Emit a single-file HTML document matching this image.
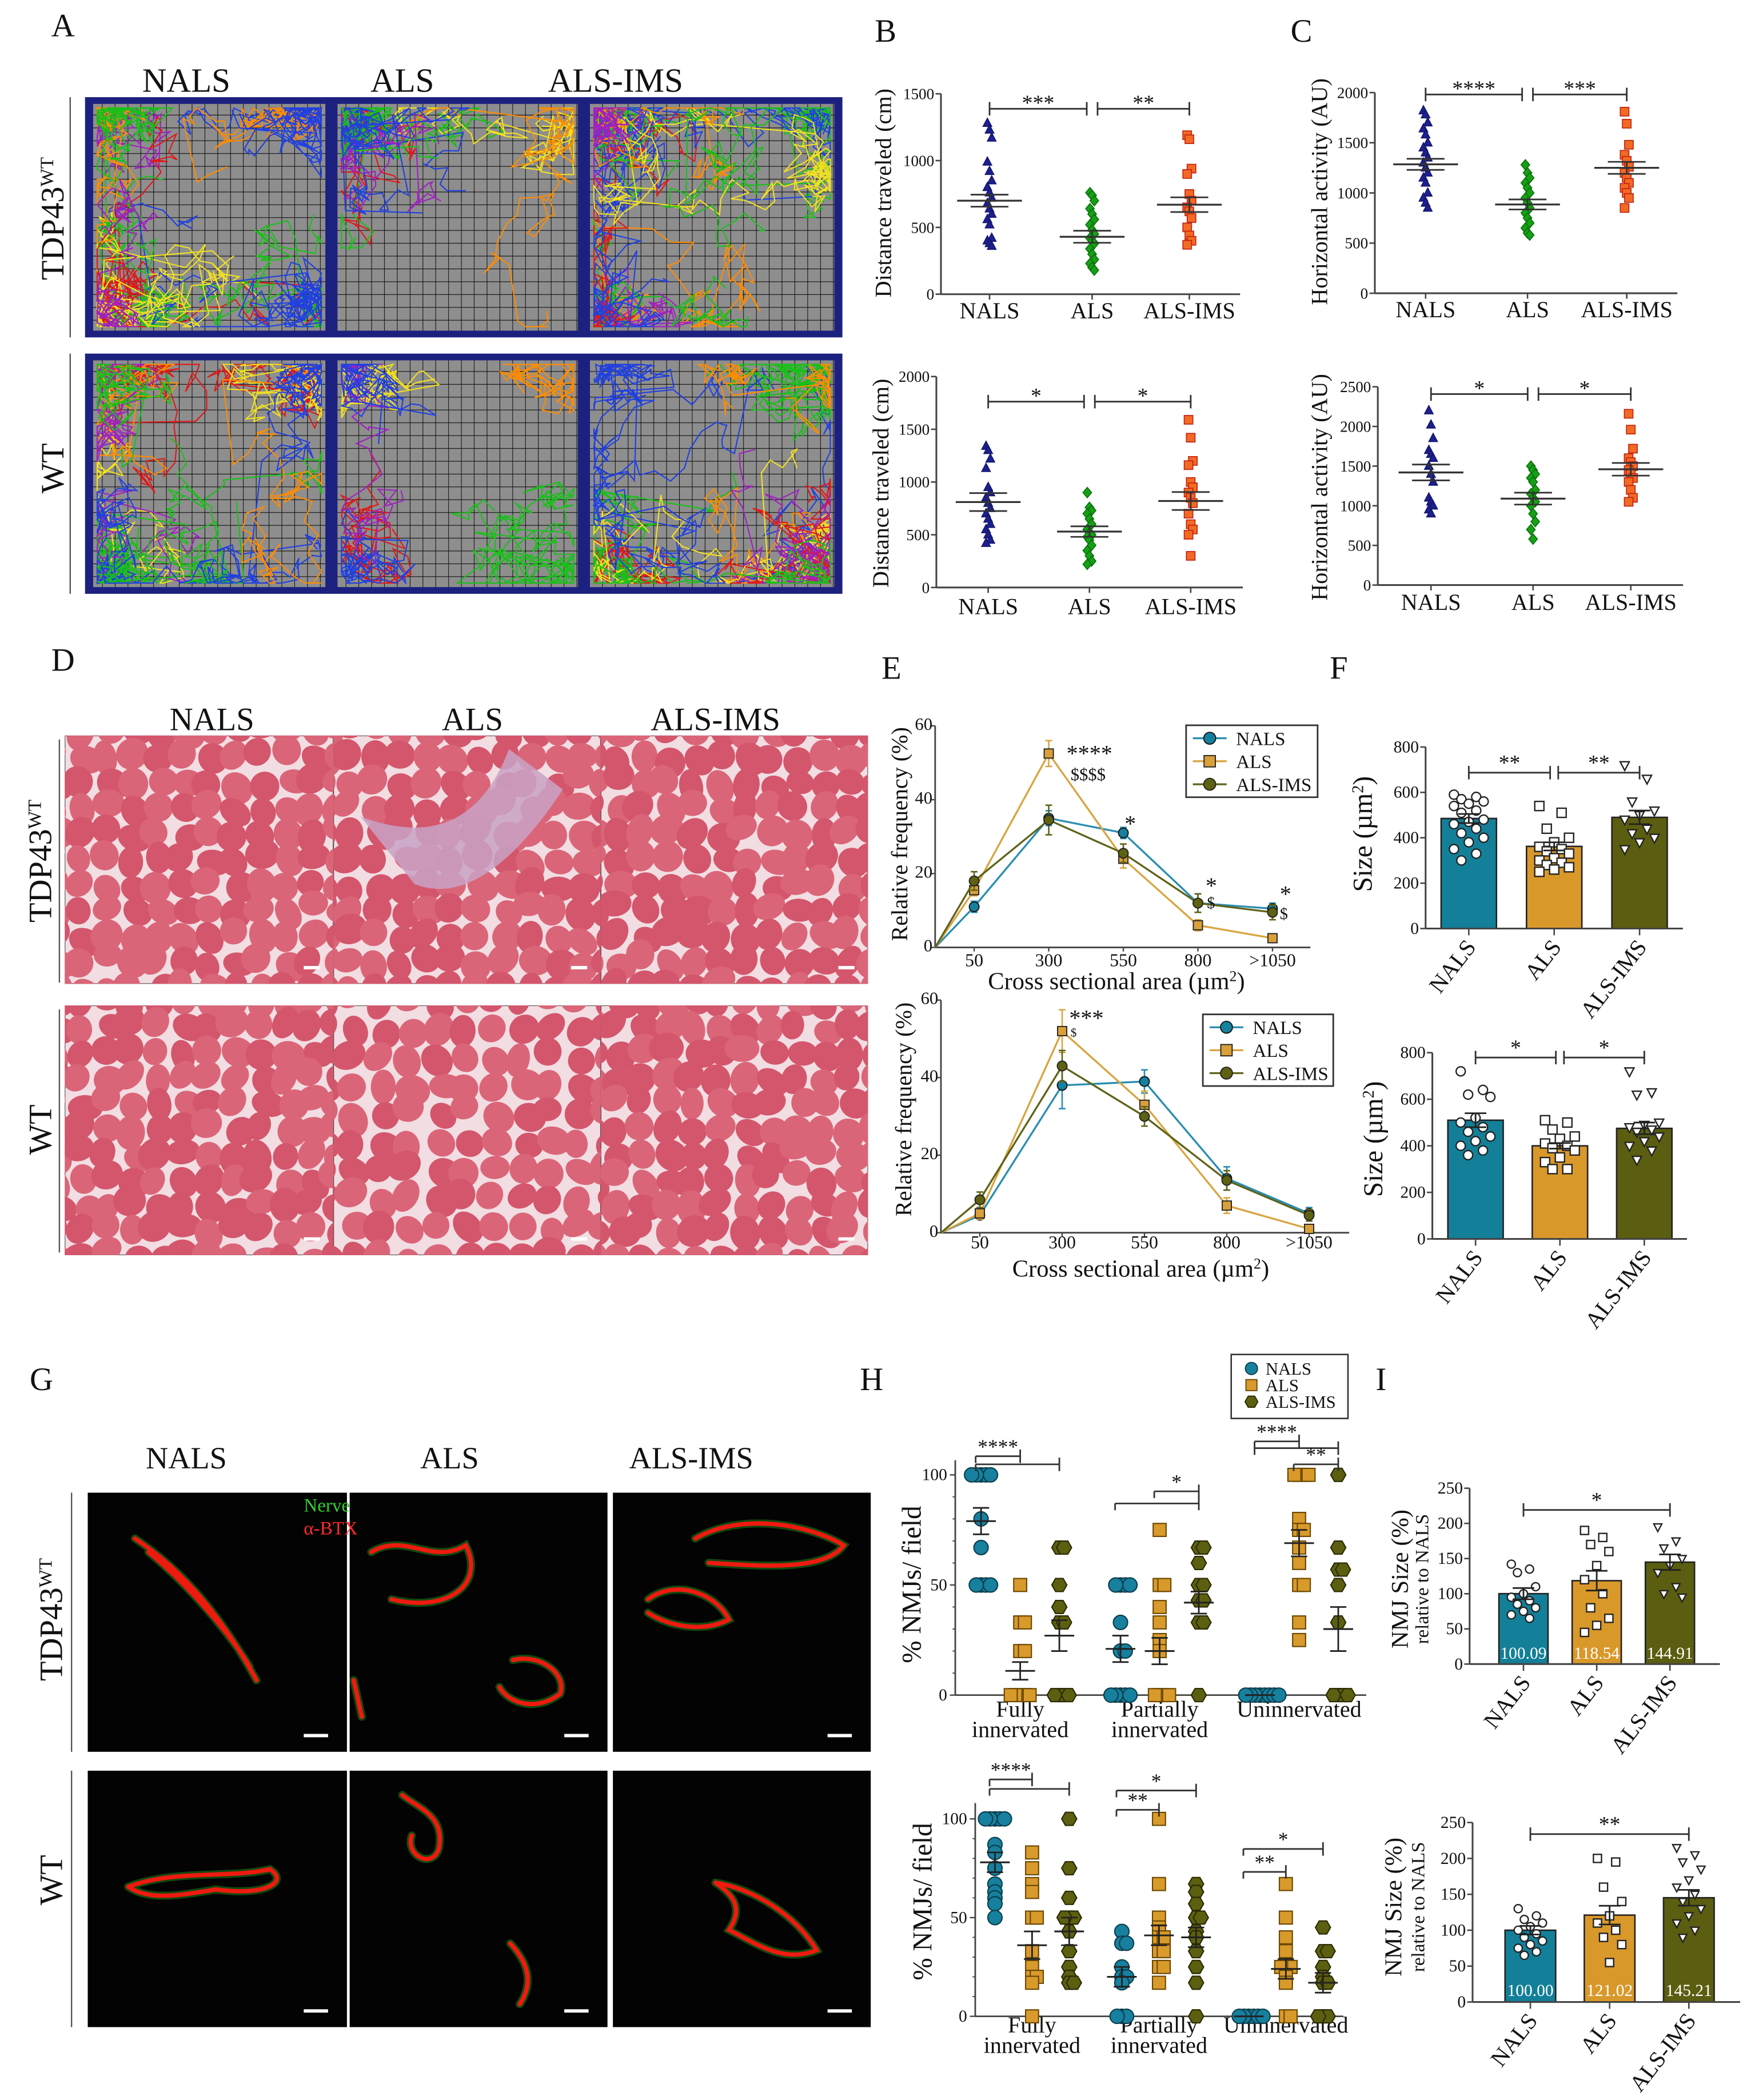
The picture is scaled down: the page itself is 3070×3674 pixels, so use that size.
<!DOCTYPE html>
<html><head><meta charset="utf-8">
<style>
html,body{margin:0;padding:0;background:#fff}
svg{display:block;font-family:"Liberation Serif","DejaVu Serif","Times New Roman",serif}
svg text{font-family:"Liberation Serif","DejaVu Serif","Times New Roman",serif;fill:#111}
</style></head>
<body>
<svg id="fig" xmlns="http://www.w3.org/2000/svg" width="3070" height="3674" viewBox="0 0 1300 1556" preserveAspectRatio="none" font-family="Liberation Serif, DejaVu Serif, serif">
<rect width="1300" height="1556" fill="#fff"/>
</svg>
<script>
// ===== Panel B (distance traveled) =====
const bCats=['NALS','ALS','ALS-IMS'];
const bTopTicks=[0,500,1000,1500];
const bTopNals=[1280,1230,1170,990,920,850,800,760,720,680,640,600,560,520,420,400,380,360];
const bTopAls=[760,740,700,640,600,560,520,480,450,420,400,380,340,300,260,230,200,180];
const bTopIms=[1190,1160,940,900,750,700,650,620,570,500,440,400,370];
const bTopMean=[700,430,670];
const bTopSem=[45,45,55];
const bTopSig=['***','**'];
const bBotTicks=[0,500,1000,1500,2000];
const bBotNals=[1340,1300,1220,1130,950,900,850,800,750,700,650,600,550,500,450,420];
const bBotAls=[900,760,730,700,650,600,550,520,500,480,450,400,350,300,250,220];
const bBotIms=[1590,1420,1200,1160,1000,950,900,850,800,700,600,550,500,300];
const bBotMean=[810,530,820];
const bBotSem=[85,50,85];
const bBotSig=['*','*'];
// ===== Panel C (horizontal activity) =====
const cTopTicks=[0,500,1000,1500,2000];
const cTopNals=[1820,1780,1700,1640,1580,1500,1450,1400,1350,1300,1250,1200,1150,1100,1000,950,900,850];
const cTopAls=[1280,1200,1150,1100,1050,1000,950,900,850,800,750,700,650,600,580];
const cTopIms=[1810,1690,1480,1380,1320,1260,1200,1150,1100,1050,1000,950,850];
const cTopMean=[1285,885,1250];
const cTopSem=[55,50,60];
const cTopSig=['****','***'];
const cBotTicks=[0,500,1000,1500,2000,2500];
const cBotNals=[2200,2020,1850,1700,1650,1600,1500,1400,1300,1100,1050,1000,950,900];
const cBotAls=[1500,1450,1400,1350,1300,1200,1150,1100,1050,1000,900,800,700,580];
const cBotIms=[2160,1960,1720,1600,1550,1500,1450,1400,1350,1300,1200,1100,1050];
const cBotMean=[1420,1090,1460];
const cBotSem=[100,75,80];
const cBotSig=['*','*'];
// ===== Panel E (relative frequency) =====
const eCats=['50','300','550','800','>1050'];
const eTicks=[0,20,40,60];
const eTopNals=[11,35,31,12,10.5];
const eTopNalsErr=[1.5,2,1.5,2.5,1.5];
const eTopAls=[15.5,52.5,24,6,2.5];
const eTopAlsErr=[1.5,3.5,2.5,1.5,0.5];
const eTopIms=[18,34.5,25.5,12,9.5];
const eTopImsErr=[2.5,4,2.5,2.5,2];
const eBotNals=[4.5,38,39,14,5];
const eBotNalsErr=[1,6,3,3,1.5];
const eBotAls=[5,52,33,7,1];
const eBotAlsErr=[1.5,5.5,3.5,2,0.5];
const eBotIms=[8.5,43,30,13.5,4.5];
const eBotImsErr=[2,4,2.5,2.5,1.5];
// ===== Panel F (fiber size) =====
const fTicks=[0,200,400,600,800];
const fTopMean=[485,362,490];
const fTopSem=[20,18,30];
const fTopNals=[590,580,570,560,550,540,520,510,480,470,460,440,420,400,380,350,330,300];
const fTopAls=[540,510,440,400,380,360,350,340,330,310,300,290,280,270,260,250];
const fTopIms=[720,660,560,520,500,480,440,420,400,380,350];
const fTopSig=['**','**'];
const fBotMean=[510,400,475];
const fBotSem=[30,12,25];
const fBotNals=[720,640,620,610,520,500,480,460,440,420,400,380,360];
const fBotAls=[510,500,470,440,430,410,400,390,380,350,330,300,300];
const fBotIms=[720,630,620,500,490,480,470,460,440,420,400,380,340];
const fBotSig=['*','*'];
// ===== Panel H (% NMJs / field) =====
const hGroups=[['Fully','innervated'],['Partially','innervated'],['Uninnervated']];
const hTicks=[0,50,100];
const hTopNals=[[100,100,100,100,100,80,67,50,50,50,50],[50,50,50,50,33,20,20,0,0,0,0,0],[0,0,0,0,0,0,0,0]];
const hTopAls=[[50,33,33,20,20,0,0,0,0,0],[75,50,50,40,33,25,20,0,0,0,0],[100,100,100,100,80,75,75,67,60,50,50,33,25]];
const hTopIms=[[67,67,50,40,33,33,0,0,0,0],[67,67,60,50,50,43,43,33,33,0],[100,67,57,57,50,33,0,0,0,0]];
const hTopNalsMean=[79,21,0], hTopNalsSem=[6,6,0];
const hTopAlsMean=[11,20,69], hTopAlsSem=[4,6,6];
const hTopImsMean=[27,42,30], hTopImsSem=[7,5,10];
const hBotNals=[[100,100,100,100,100,87,83,75,67,63,60,57,50],[43,37,37,25,20,20,17,0,0,0],[0,0,0,0,0,0]];
const hBotAls=[[83,75,67,63,50,50,33,25,20,20,17,0],[100,67,50,45,43,40,40,33,33,25,25,17],[67,50,40,33,25,25,25,20,17,0,0]];
const hBotIms=[[100,75,60,50,50,50,43,33,25,20,17,17],[67,63,57,50,50,43,40,33,25,17,0],[45,33,33,25,20,17,17,0,0,0]];
const hBotNalsMean=[78,20,0], hBotNalsSem=[5,5,0];
const hBotAlsMean=[36,41,24], hBotAlsSem=[7,5,5];
const hBotImsMean=[43,40,17], hBotImsSem=[7,5,5];
// ===== Panel I (NMJ size) =====
const iTicks=[0,50,100,150,200,250];
const iTopMean=[100.09,118.54,144.91];
const iTopSem=[8,14,11];
const iTopLabels=['100.09','118.54','144.91'];
const iTopNals=[142,135,130,110,100,95,90,85,80,75,70,65];
const iTopAls=[190,180,170,160,140,120,100,80,65,55,45];
const iTopIms=[195,175,165,150,140,130,110,100,95];
const iBotMean=[100.00,121.02,145.21];
const iBotSem=[6,13,11];
const iBotLabels=['100.00','121.02','145.21'];
const iBotNals=[130,120,115,110,105,100,95,90,85,80,75,70,65];
const iBotAls=[200,195,160,140,120,110,100,90,80,55];
const iBotIms=[215,205,195,185,170,160,150,140,130,120,110,100,90];

const NS='http://www.w3.org/2000/svg';
const svg=document.getElementById('fig');
const FONT='Liberation Serif, DejaVu Serif, Times New Roman, serif';
function mk(tag,attrs,parent){const e=document.createElementNS(NS,tag);for(const k in attrs)e.setAttribute(k,attrs[k]);(parent||svg).appendChild(e);return e;}
function grp(name,parent){const g=mk('g',{},parent);


return g;}
function ln(p,name,x1,y1,x2,y2,st,sw){const e=mk('line',{x1:x1,y1:y1,x2:x2,y2:y2,stroke:st||'#333','stroke-width':sw||1.2},p);


return e;}
function tx(p,name,x,y,s,size,extra){const t=mk('text',Object.assign({x:x,y:y,'font-size':size,'font-family':FONT},extra||{}),p);


t.textContent=s;return t;}
function marker(p,name,shape,x,y,r,fill,stroke,sw){let e;
if(shape==='circle')e=mk('circle',{cx:x,cy:y,r:r},p);
else if(shape==='square')e=mk('rect',{x:x-r,y:y-r,width:2*r,height:2*r},p);
else{let pts;
if(shape==='tri')pts=[[x,y-r*1.15],[x+r,y+r*0.75],[x-r,y+r*0.75]];
else if(shape==='tridown')pts=[[x-r,y-r*0.75],[x+r,y-r*0.75],[x,y+r*1.15]];
else if(shape==='diamond')pts=[[x,y-r*1.2],[x+r,y],[x,y+r*1.2],[x-r,y]];
else{pts=[];for(let k=0;k<6;k++){const a=Math.PI/3*k;pts.push([x+r*Math.cos(a),y+r*Math.sin(a)]);}}
e=mk('polygon',{points:pts.map(q=>q[0].toFixed(2)+','+q[1].toFixed(2)).join(' ')},p);}
e.setAttribute('fill',fill);e.setAttribute('stroke',stroke);e.setAttribute('stroke-width',sw||1);


return e;}
function vtitle(p,name,x,y,s,size){return tx(p,name,x,y,s,size,{'text-anchor':'middle',transform:'rotate(-90 '+x+' '+y+')'});}

// ---------- Dot plots (B, C) ----------
const BSTY=[{shape:'tri',fill:'#1c2090',stroke:'#14166a'},{shape:'diamond',fill:'#16a016',stroke:'#0c700c'},{shape:'square',fill:'#f26a24',stroke:'#c42010'}];
function dotPlot(name,G,ticks,series,means,sems,sig){
const g=grp(name);const vmax=ticks[ticks.length-1];
const y=v=>G.y0-v/vmax*(G.y0-G.yTop);
ln(g,'y-axis',G.ax,G.y0,G.ax,G.yTop,'#444',1.3);
ticks.forEach(t=>{ln(g,'y-tick',G.ax-4,y(t),G.ax,y(t),'#444',1.1);tx(g,'y-tick-label',G.ax-5,y(t)+4,String(t),11.5,{'text-anchor':'end'});});
ln(g,'x-axis',G.ax,G.y0,G.xEnd,G.y0,'#444',1.3);
bCats.forEach((c,i)=>{ln(g,'x-tick',G.xs[i],G.y0,G.xs[i],G.y0+4,'#444',1.1);tx(g,'x-tick-label',G.xs[i],G.labelY,c,17,{'text-anchor':'middle'});});
vtitle(g,'y-axis-title',G.titleX,G.titleY,G.title,17);
series.forEach((vals,si)=>{vals.forEach((v,i)=>{marker(g,'data-point',BSTY[si].shape,G.xs[si]+((i%3)-1)*1.6,y(v),3.2,BSTY[si].fill,BSTY[si].stroke,0.7);});});
means.forEach((m,i)=>{const x=G.xs[i];
ln(g,'mean-line',x-24,y(m),x+24,y(m),'#333',1.4);
ln(g,'sem-upper',x-14,y(m+sems[i]),x+14,y(m+sems[i]),'#333',1.2);
ln(g,'sem-lower',x-14,y(m-sems[i]),x+14,y(m-sems[i]),'#333',1.2);
ln(g,'sem-bar',x,y(m+sems[i]),x,y(m-sems[i]),'#333',1.2);});
[[0,1],[1,2]].forEach((pr,k)=>{const x1=G.xs[pr[0]]+(pr[0]===1?4:0),x2=G.xs[pr[1]]-(pr[1]===1?4:0);
ln(g,'significance-bar',x1,G.sigY,x2,G.sigY,'#333',1.2);
ln(g,'significance-tick',x1,G.sigY-5,x1,G.sigY+5,'#333',1.2);
ln(g,'significance-tick',x2,G.sigY-5,x2,G.sigY+5,'#333',1.2);
tx(g,'significance-stars',(x1+x2)/2,G.sigY+1,sig[k],16,{'text-anchor':'middle'});});
}
dotPlot('panel-b-top-chart',{ax:697,y0:218,yTop:69.5,xEnd:918.6,xs:[733,809,881],labelY:236,titleX:660,titleY:143,title:'Distance traveled (cm)',sigY:80.6},bTopTicks,[bTopNals,bTopAls,bTopIms],bTopMean,bTopSem,bTopSig);
dotPlot('panel-b-bottom-chart',{ax:693.6,y0:435.3,yTop:279,xEnd:920.6,xs:[732,807,882],labelY:455,titleX:658,titleY:358,title:'Distance traveled (cm)',sigY:297.6},bBotTicks,[bBotNals,bBotAls,bBotIms],bBotMean,bBotSem,bBotSig);
dotPlot('panel-c-top-chart',{ax:1018.4,y0:217.3,yTop:68.6,xEnd:1242.5,xs:[1056,1131.5,1205],labelY:235,titleX:983,titleY:142,title:'Horizontal activity (AU)',sigY:70},cTopTicks,[cTopNals,cTopAls,cTopIms],cTopMean,cTopSem,cTopSig);
dotPlot('panel-c-bottom-chart',{ax:1020.6,y0:433.5,yTop:286.6,xEnd:1246.7,xs:[1060,1135.6,1208],labelY:452,titleX:983,titleY:361,title:'Horizontal activity (AU)',sigY:292},cBotTicks,[cBotNals,cBotAls,cBotIms],cBotMean,cBotSem,cBotSig);

// ---------- Line charts (E) ----------
const ESTY=[{shape:'circle',fill:'#16809e',stroke:'#111',line:'#2a8db0',label:'NALS',r:3.6},{shape:'square',fill:'#d9a03a',stroke:'#222',line:'#d9a441',label:'ALS',r:3.4},{shape:'circle',fill:'#5e6112',stroke:'#222',line:'#5f6219',label:'ALS-IMS',r:3.6}];
function lineChart(name,G,series,errs,stars){
const g=grp(name);const vmax=eTicks[eTicks.length-1];
const y=v=>G.y0-v/vmax*(G.y0-G.yTop);const x=i=>G.x1+i*G.step;
ln(g,'y-axis',G.ax,G.y0,G.ax,G.yTop,'#444',1.2);
eTicks.forEach(t=>{ln(g,'y-tick',G.ax-3,y(t),G.ax,y(t),'#444',1);tx(g,'y-tick-label',G.ax-2,y(t)+3,String(t),13,{'text-anchor':'end'});});
ln(g,'x-axis',G.ax,G.y0,G.xEnd,G.y0,'#444',1.2);
eCats.forEach((c,i)=>{ln(g,'x-tick',x(i),G.y0,x(i),G.y0+3,'#444',1);tx(g,'x-tick-label',x(i),G.labelY,c,13.5,{'text-anchor':'middle'});});
const tt=tx(g,'x-axis-title',G.titleCX,G.titleY,'Cross sectional area (µm',18,{'text-anchor':'middle'});
const sup=mk('tspan',{'baseline-shift':'super','font-size':11},tt);sup.textContent='2';
const cl=mk('tspan',{},tt);cl.textContent=')';
vtitle(g,'y-axis-title',G.titleX,G.titleYc,'Relative frequency (%)',17);
series.forEach((vals,si)=>{const s=ESTY[si];
const pts=[[G.ax,y(0)]].concat(vals.map((v,i)=>[x(i),y(v)]));
const pl=mk('polyline',{points:pts.map(q=>q.join(',')).join(' '),fill:'none',stroke:s.line,'stroke-width':1.4},g);


vals.forEach((v,i)=>{const e=errs[si][i];
ln(g,'error-bar',x(i),y(v+e),x(i),y(v-e),s.line,1.1);
ln(g,'error-cap',x(i)-2.5,y(v+e),x(i)+2.5,y(v+e),s.line,1.1);
ln(g,'error-cap',x(i)-2.5,y(v-e),x(i)+2.5,y(v-e),s.line,1.1);
marker(g,'data-point',s.shape,x(i),y(v),s.r,s.fill,s.stroke,0.8);});});
const L=G.leg;const lg=grp('legend',g);
const box=mk('rect',{x:L.x,y:L.y,width:L.w,height:L.h,fill:'#fff',stroke:'#333','stroke-width':1.2},lg);


ESTY.forEach((s,i)=>{const yy=L.y+L.h*(0.18+0.32*i);
ln(lg,'legend-line',L.x+5,yy,L.x+30,yy,s.line,1.4);
marker(lg,'legend-marker',s.shape,L.x+17.5,yy,s.r+0.8,s.fill,s.stroke,0.8);
tx(lg,'legend-entry',L.x+37,yy+5,s.label,14);});
stars.forEach(st=>tx(g,'significance-mark',st[0],st[1],st[2],st[3]));
}
lineChart('panel-e-top-chart',{ax:692.7,y0:702,yTop:537.8,x1:721.6,step:55.25,xEnd:970.6,labelY:716,titleY:733,titleCX:827,titleX:672,titleYc:618,leg:{x:878.6,y:537.4,w:97.4,h:53.3}},[eTopNals,eTopAls,eTopIms],[eTopNalsErr,eTopAlsErr,eTopImsErr],[[790,564,'****',17],[793,578,'$$$$',13],[833,616,'*',17],[893,662,'*',17],[894,673,'$',12],[948,668,'*',17],[948,681,'$',12]]);
lineChart('panel-e-bottom-chart',{ax:697,y0:913.4,yTop:741,x1:725.8,step:60.98,xEnd:999.4,labelY:925,titleY:946,titleCX:845,titleX:675,titleYc:822,leg:{x:891,y:751.6,w:96.6,h:53.1}},[eBotNals,eBotAls,eBotIms],[eBotNalsErr,eBotAlsErr,eBotImsErr],[[792,760,'***',17],[793,768,'$',9]]);

// ---------- Bar charts (F, I) ----------
const BARSTY=[{fill:'#137f98',shape:'circle'},{fill:'#d9982a',shape:'square'},{fill:'#5b5d10',shape:'tridown'}];
function barChart(name,G,ticks,means,sems,points,sig,valLabels){
const g=grp(name);const vmax=ticks[ticks.length-1];
const y=v=>G.y0-v/vmax*(G.y0-G.yTop);const x=i=>G.x0+i*G.step;
means.forEach((m,i)=>{const r=mk('rect',{x:x(i)-G.bw/2,y:y(m),width:G.bw,height:G.y0-y(m),fill:BARSTY[i].fill,stroke:'#222','stroke-width':1.1},g);

});
points.forEach((vals,si)=>{vals.forEach((v,i)=>{marker(g,'data-point',BARSTY[si].shape,x(si)+(((i*3)%5)-2)*G.spread,y(v),G.mr,'#fff','#222',1);});});
means.forEach((m,i)=>{const xi=x(i);
ln(g,'error-bar',xi,y(m-sems[i]),xi,y(m+sems[i]),'#222',1.2);
ln(g,'error-cap',xi-8,y(m+sems[i]),xi+8,y(m+sems[i]),'#222',1.2);
ln(g,'error-cap',xi-8,y(m-sems[i]),xi+8,y(m-sems[i]),'#222',1.2);
if(valLabels)tx(g,'bar-value-label',xi,G.valY,valLabels[i],12.5,{'text-anchor':'middle',style:'fill:#fff'});});
ln(g,'y-axis',G.ax,G.y0,G.ax,G.yTop,'#444',1.3);
ticks.forEach(t=>{ln(g,'y-tick',G.ax-4,y(t),G.ax,y(t),'#444',1.1);tx(g,'y-tick-label',G.ax-5,y(t)+4,String(t),G.tf,{'text-anchor':'end'});});
ln(g,'x-axis',G.ax,G.y0,G.xEnd,G.y0,'#444',1.3);
bCats.forEach((c,i)=>{ln(g,'x-tick',x(i),G.y0,x(i),G.y0+5,'#444',1.1);
const ax=x(i)+6,ay=G.y0+14;tx(g,'x-tick-label',ax,ay,c,17,{'text-anchor':'end',transform:'rotate(-52 '+ax+' '+ay+')'});});
G.titles.forEach(t=>{const e=vtitle(g,'y-axis-title',t[0],G.titleY,t[1],t[2]);if(t[3]){const s=mk('tspan',{'baseline-shift':'super','font-size':12},e);s.textContent='2';const c=mk('tspan',{},e);c.textContent=')';}});
sig.forEach(s=>{const x1=x(s[0])+(s[0]===1?3:0),x2=x(s[1])-(s[1]===1?3:0);
ln(g,'significance-bar',x1,G.sigY,x2,G.sigY,'#333',1.2);
ln(g,'significance-tick',x1,G.sigY-5,x1,G.sigY+5,'#333',1.2);
ln(g,'significance-tick',x2,G.sigY-5,x2,G.sigY+5,'#333',1.2);
tx(g,'significance-stars',(x1+x2)/2,G.sigY-2,s[2],16,{'text-anchor':'middle'});});
}
barChart('panel-f-top-chart',{ax:1056,y0:688,yTop:553.5,x0:1088,step:63.25,bw:41,xEnd:1246.6,spread:5.5,mr:3.4,tf:12.5,titleY:618,titles:[[1016,'Size (µm',20,true]],sigY:572.5},fTicks,fTopMean,fTopSem,[fTopNals,fTopAls,fTopIms],[[0,1,fTopSig[0]],[1,2,fTopSig[1]]]);
barChart('panel-f-bottom-chart',{ax:1061,y0:918,yTop:780,x0:1093,step:62.5,bw:41,xEnd:1249.6,spread:5.5,mr:3.4,tf:12.5,titleY:844,titles:[[1024,'Size (µm',20,true]],sigY:783.6},fTicks,fBotMean,fBotSem,[fBotNals,fBotAls,fBotIms],[[0,1,fBotSig[0]],[1,2,fBotSig[1]]]);
barChart('panel-i-top-chart',{ax:1088.6,y0:1233,yTop:1102.7,x0:1128.5,step:54.25,bw:36.4,xEnd:1274,spread:4.5,mr:3,tf:12.5,valY:1229,titleY:1170,titles:[[1043,'NMJ Size (%)',18],[1058,'relative to NALS',14]],sigY:1118.8},iTicks,iTopMean,iTopSem,[iTopNals,iTopAls,iTopIms],[[0,2,'*']],iTopLabels);
barChart('panel-i-bottom-chart',{ax:1090.8,y0:1483.4,yTop:1350.4,x0:1133.6,step:58.7,bw:37.5,xEnd:1289,spread:4.5,mr:3,tf:12.5,valY:1479,titleY:1413,titles:[[1038,'NMJ Size (%)',18],[1055,'relative to NALS',14]],sigY:1359},iTicks,iBotMean,iBotSem,[iBotNals,iBotAls,iBotIms],[[0,2,'**']],iBotLabels);

// ---------- Grouped dot plots (H) ----------
const HSTY=[{shape:'circle',fill:'#16809e',stroke:'#0c3d4c',r:5.3},{shape:'square',fill:'#d99a2c',stroke:'#6a4800',r:4.8},{shape:'hex',fill:'#5c5f10',stroke:'#2a2a00',r:5.6}];
function groupDot(name,G,series,means,sems,sigs){
const g=grp(name);const vmax=100;
const y=v=>G.y0-v/vmax*(G.y0-G.y100);const x=(gi,si)=>G.g0+gi*G.gStep+si*G.sStep;
ln(g,'y-axis',G.ax,G.y0,G.ax,G.yTop,'#444',1.2);
hTicks.forEach(t=>{ln(g,'y-tick',G.ax-4,y(t),G.ax,y(t),'#444',1);tx(g,'y-tick-label',G.ax-6,y(t)+4,String(t),12.5,{'text-anchor':'end'});});
for(let t=10;t<=100;t+=10){ln(g,'y-minor-tick',G.ax-2,y(t),G.ax,y(t),'#444',0.8);}
ln(g,'x-axis',G.ax,G.y0,G.xEnd,G.y0,'#444',1.2);
hGroups.forEach((lab,gi)=>{lab.forEach((s,k)=>tx(g,'group-label',x(gi,1),G.labelY+k*15,s,17,{'text-anchor':'middle'}));});
vtitle(g,'y-axis-title',G.titleX,G.titleY,'% NMJs/ field',20);
series.forEach((ser,si)=>{ser.forEach((vals,gi)=>{const seen={};vals.forEach(v=>{const k=seen[v]||0;seen[v]=k+1;
const off=k===0?0:(k%2?1:-1)*Math.ceil(k/2)*3.5;
marker(g,'data-point',HSTY[si].shape,x(gi,si)+off,y(v),HSTY[si].r,HSTY[si].fill,HSTY[si].stroke,0.9);});});});
means.forEach((mm,si)=>{mm.forEach((m,gi)=>{const xx=x(gi,si),e=sems[si][gi];
ln(g,'mean-line',xx-11,y(m),xx+11,y(m),'#222',1.3);
if(e>0){ln(g,'sem-bar',xx,y(m-e),xx,y(m+e),'#222',1.2);
ln(g,'sem-cap',xx-6,y(m+e),xx+6,y(m+e),'#222',1.2);
ln(g,'sem-cap',xx-6,y(m-e),xx+6,y(m-e),'#222',1.2);}});});
sigs.forEach(s=>{const x1=x(s[0],s[1])-4,x2=x(s[0],s[2]);
ln(g,'significance-bar',x1,s[3],x2,s[3],'#333',1.2);
ln(g,'significance-tick',x1,s[3],x1,s[3]+5,'#333',1.2);
ln(g,'significance-tick',x2,s[3]-5,x2,s[3]+5,'#333',1.2);
tx(g,'significance-stars',(x1+x2)/2,s[3]-2,s[4],15,{'text-anchor':'middle'});});
}
groupDot('panel-h-top-chart',{ax:707.6,y0:1256,y100:1092.8,yTop:1082,g0:726.7,gStep:103.3,sStep:29,xEnd:1012,labelY:1272,titleX:682,titleY:1174},[hTopNals,hTopAls,hTopIms],[hTopNalsMean,hTopAlsMean,hTopImsMean],[hTopNalsSem,hTopAlsSem,hTopImsSem],[[0,0,1,1079,'****'],[0,0,2,1085,''],[1,1,2,1105,'*'],[1,0,2,1114,''],[2,0,1,1068,'****'],[2,0,2,1073,''],[2,1,2,1085,'**']]);
groupDot('panel-h-bottom-chart',{ax:722.4,y0:1494,y100:1347.7,yTop:1336,g0:737,gStep:94,sStep:27.5,xEnd:995,labelY:1506,titleX:690,titleY:1409},[hBotNals,hBotAls,hBotIms],[hBotNalsMean,hBotAlsMean,hBotImsMean],[hBotNalsSem,hBotAlsSem,hBotImsSem],[[0,0,1,1318.5,'****'],[0,0,2,1325.5,''],[1,0,2,1326.7,'*'],[1,0,1,1341,'**'],[2,0,2,1370,'*'],[2,0,1,1387,'**']]);
(function(){const lg=grp('panel-h-legend');const b=mk('rect',{x:912,y:1003.6,width:86.5,height:47.4,fill:'#fff',stroke:'#333','stroke-width':1.1},lg);


['NALS','ALS','ALS-IMS'].forEach((s,i)=>{const yy=1014+i*12.3;marker(lg,'legend-marker',HSTY[i].shape,927,yy,HSTY[i].r*0.85,HSTY[i].fill,HSTY[i].stroke,0.8);tx(lg,'legend-entry',937.5,yy+4.5,s,13);});})();

// ---------- Panel letters & image headers ----------
const hdr=grp('labels');
[['A',38,27],['B',648,31],['C',956,31],['D',38,497],['E',653,503],['F',985,503],['G',22,1030],['H',637,1030],['I',1019,1030]].forEach(l=>tx(hdr,'panel-label-'+l[0].toLowerCase(),l[1],l[2],l[0],24));
function rowLabel(x,y,s,wt){const t=tx(hdr,'row-label',x,y,s,24,{'text-anchor':'middle',transform:'rotate(-90 '+x+' '+y+')'});if(wt){const sp=mk('tspan',{'baseline-shift':'super','font-size':14},t);sp.textContent='WT';}}
[[138,60,'NALS'],[298,60,'ALS'],[456,60,'ALS-IMS']].forEach(c=>tx(hdr,'column-title',c[0],c[1]+8,c[2],25,{'text-anchor':'middle'}));
[[157,533,'NALS'],[350,533,'ALS'],[530,533,'ALS-IMS']].forEach(c=>tx(hdr,'column-title',c[0],c[1]+8,c[2],24,{'text-anchor':'middle'}));
[[138,1080,'NALS'],[333,1080,'ALS'],[512,1080,'ALS-IMS']].forEach(c=>tx(hdr,'column-title',c[0],c[1]+8,c[2],23,{'text-anchor':'middle'}));
rowLabel(47,162,'TDP43',true);rowLabel(47,347,'WT',false);
rowLabel(38,638,'TDP43',true);rowLabel(38,837,'WT',false);
rowLabel(46,1200,'TDP43',true);rowLabel(46,1393,'WT',false);
[[52,72,250],[52,262,440],[44,548,728],[44,748,928],[53,1106,1298],[53,1312,1502]].forEach(b=>ln(hdr,'row-bracket',b[0],b[1],b[0],b[2],'#555',1));

// ---------- Image panels (decorative approximations) ----------
function rng(seed){let s=seed;return()=>{s=(s*1664525+1013904223)%4294967296;return s/4294967296;};}
const defs=mk('defs',{});
const pat=mk('pattern',{id:'grid',width:9.5,height:9.5,patternUnits:'userSpaceOnUse'},defs);
mk('path',{d:'M9.5 0V9.5M0 9.5H9.5',stroke:'#111','stroke-width':0.9,fill:'none'},pat);
const A=grp('panel-a-tracking-images');
const trackCols=['#e01818','#18c018','#2040e0','#f0e020','#ff8c00','#a020c0','#18c018','#2040e0'];
[[72,250],[262,440]].forEach((r,ri)=>{
const fr=mk('rect',{x:63,y:r[0],width:561,height:r[1]-r[0],fill:'#1c2180'},A);


[[69,241],[250,428],[437,618]].forEach((c,ci)=>{const y0=r[0]+5,h=r[1]-r[0]-10,w=c[1]-c[0];
const bg=mk('rect',{x:c[0],y:y0,width:w,height:h,fill:'#8e8e8e'},A);


mk('rect',{x:c[0],y:y0,width:w,height:h,fill:'url(#grid)'},A);
const R=rng(17+ri*7+ci*3);const n=ci===1?8:16;
for(let k=0;k<n;k++){let px=c[0]+5+R()*(w-10),py=y0+5+R()*(h-10);const pts=[];
for(let s=0;s<90;s++){px+=(R()-0.5)*30;py+=(R()-0.5)*30;
if(R()<0.12){if(R()<0.5)px=px<c[0]+w/2?c[0]+5+R()*12:c[0]+w-5-R()*12;else py=py<y0+h/2?y0+5+R()*12:y0+h-5-R()*12;}
px=Math.max(c[0]+3,Math.min(c[0]+w-3,px));py=Math.max(y0+3,Math.min(y0+h-3,py));pts.push(px.toFixed(1)+','+py.toFixed(1));}
const pl=mk('polyline',{points:pts.join(' '),fill:'none',stroke:trackCols[k%8],'stroke-width':0.9},A);

}});});
const D=grp('panel-d-histology-images');
[[545,729],[745,930]].forEach((r,ri)=>{[[48,247],[247,445],[445,643]].forEach((c,ci)=>{const w=c[1]-c[0],h=r[1]-r[0];
const cp=mk('clipPath',{id:'dc'+ri+ci},defs);mk('rect',{x:c[0],y:r[0],width:w,height:h},cp);
const gg=grp('muscle-section',D);gg.setAttribute('clip-path','url(#dc'+ri+ci+')');
mk('rect',{x:c[0],y:r[0],width:w,height:h,fill:'#f1dde2',stroke:'#333','stroke-width':0.8},gg);
const R=rng(101+ri*11+ci*5);const sp=ri===1&&ci===1?21:19;
for(let yy=r[0]-5;yy<r[1]+10;yy+=sp){for(let xx=c[0]-5;xx<c[1]+10;xx+=sp){const e=mk('ellipse',{cx:xx+R()*5,cy:yy+R()*5,rx:10+R()*3,ry:8.5+R()*3,transform:'rotate('+(R()*180).toFixed(0)+' '+xx+' '+yy+')',fill:R()<0.5?'#d4566c':'#db6578'},gg);

}}
if(ri===0&&ci===1)mk('path',{d:'M'+(c[0]+20)+' '+(r[0]+60)+' Q'+(c[0]+100)+' '+(r[0]+90)+' '+(c[0]+130)+' '+(r[0]+10)+' L'+(c[0]+170)+' '+(r[0]+40)+' Q'+(c[0]+110)+' '+(r[0]+130)+' '+(c[0]+60)+' '+(r[0]+110)+' Z',fill:'#c9a2c6',opacity:0.85},gg);
ln(gg,'scale-bar',c[1]-22,r[1]-12,c[1]-10,r[1]-12,'#fff',2.5);});});
const Gp=grp('panel-g-nmj-images');
const redPaths=[
'M100 1140 C130 1160 160 1190 190 1245 M110 1150 C140 1175 170 1210 185 1235',
'M275 1150 C300 1135 320 1160 345 1145 C360 1175 330 1195 290 1185 M380 1230 C400 1225 420 1240 415 1255 C395 1270 375 1260 370 1250 M262 1245 L268 1272',
'M515 1140 C550 1120 600 1130 625 1145 C610 1165 560 1160 525 1158 M480 1185 C500 1170 530 1180 540 1200 C520 1210 495 1205 480 1195',
'M95 1398 C130 1385 170 1392 200 1385 C215 1395 195 1405 160 1400 C130 1405 110 1408 95 1398',
'M298 1330 C310 1340 330 1345 325 1370 C320 1385 300 1375 305 1360 M378 1440 C392 1455 395 1470 385 1485',
'M530 1395 C560 1400 590 1420 605 1445 C580 1455 560 1440 540 1430 C550 1415 545 1405 530 1395'];
[[1106,1298],[1312,1502]].forEach((r,ri)=>{[[65,257],[259,450],[454,645]].forEach((c,ci)=>{
const bg=mk('rect',{x:c[0],y:r[0],width:c[1]-c[0],height:r[1]-r[0],fill:'#030303'},Gp);


const d=redPaths[ri*3+ci];
const g1=mk('path',{d:d,fill:'none',stroke:'#2ecc2e','stroke-width':6,'stroke-linecap':'round',opacity:0.35},Gp);


const p=mk('path',{d:d,fill:'none',stroke:'#ee1a10','stroke-width':3.2,'stroke-linecap':'round'},Gp);


ln(Gp,'scale-bar',c[1]-32,r[1]-12,c[1]-14,r[1]-12,'#fff',2.5);});});
tx(Gp,'nerve-label',225,1120,'Nerve',14,{style:'fill:#2fd02f'});
tx(Gp,'btx-label',225,1137,'α-BTX',14,{style:'fill:#ff2a2a'});
</script>
</body></html>
